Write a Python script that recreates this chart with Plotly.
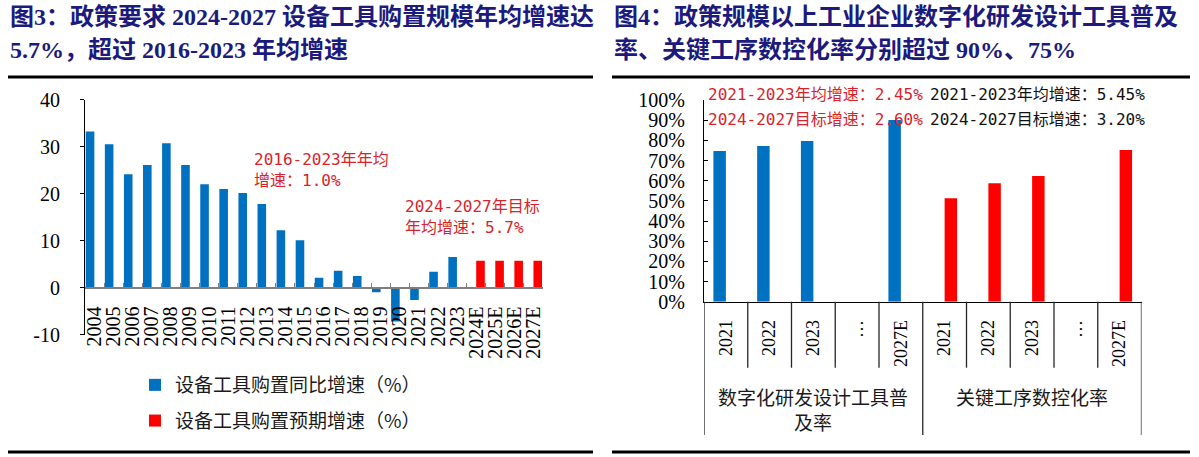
import plotly.graph_objects as go

# ---------------- data ----------------
# Left chart: 设备工具购置同比增速 (%)
hist_years = ["2004", "2005", "2006", "2007", "2008", "2009", "2010", "2011", "2012", "2013",
              "2014", "2015", "2016", "2017", "2018", "2019", "2020", "2021", "2022", "2023"]
hist_growth = [33.2, 30.5, 24.1, 26.1, 30.7, 26.1, 22.0, 21.0, 20.1, 17.8,
               12.2, 10.1, 2.1, 3.6, 2.5, -1.0, -7.2, -2.6, 3.4, 6.5]
target_years = ["2024E", "2025E", "2026E", "2027E"]
target_growth = [5.7, 5.7, 5.7, 5.7]
left_series_names = ["设备工具购置同比增速（%）", "设备工具购置预期增速（%）"]
left_yticks = [-10, 0, 10, 20, 30, 40]
left_ytext = ["-10", "0", "10", "20", "30", "40"]

# Right chart: 普及率 / 数控化率 (%)
group_names = ["数字化研发设计工具普及率", "关键工序数控化率"]
group_labels = ["数字化研发设计工具普<br>及率", "关键工序数控化率"]
period_labels = ["2021", "2022", "2023", "…", "2027E"]
digital_years = ["2021", "2022", "2023", "2027E"]
digital_rate = [74.7, 77.2, 79.7, 90.1]
cnc_years = ["2021", "2022", "2023", "2027E"]
cnc_rate = [51.3, 58.7, 62.3, 75.2]
right_yticks = [0, 10, 20, 30, 40, 50, 60, 70, 80, 90, 100]

title_left = ["图3：政策要求 2024-2027 设备工具购置规模年均增速达",
              "5.7%，超过 2016-2023 年均增速"]
title_right = ["图4：政策规模以上工业企业数字化研发设计工具普及",
               "率、关键工序数控化率分别超过 90%、75%"]
note_left_1 = "2016-2023年年均<br>增速：1.0%"
note_left_2 = "2024-2027年目标<br>年均增速：5.7%"
note_right_red = ["2021-2023年均增速：2.45%", "2024-2027目标增速：2.60%"]
note_right_black = ["2021-2023年均增速：5.45%", "2024-2027目标增速：3.20%"]

# ---------------- styling helpers ----------------
W, H = 1199, 457
def fx(px):
    return px / W
def fy(py):
    return 1 - py / H

BLUE = "#0070C0"
RED = "#FF0000"
NOTE_RED = "#D9232B"
NAVY = "#1C1A7C"
SERIF = "Liberation Serif, Noto Sans CJK SC"
CJK = "Noto Sans CJK SC"
MONO = "DejaVu Sans Mono, Noto Sans CJK SC"

fig = go.Figure()

# ---------------- left chart ----------------
fig.add_trace(go.Bar(
    x=hist_years, y=hist_growth, name=left_series_names[0],
    marker=dict(color=BLUE, line=dict(width=0)),
    offset=-0.46, width=0.45, xaxis="x", yaxis="y",
    legendgroup="a",
))
fig.add_trace(go.Bar(
    x=target_years, y=target_growth, name=left_series_names[1],
    marker=dict(color=RED, line=dict(width=0)),
    offset=0.0, width=0.45, xaxis="x", yaxis="y",
    legendgroup="b",
))

# ---------------- right chart ----------------
cat_keys = [f"{g}|{p}" for g in group_names for p in period_labels]
cat_text = [p for g in group_names for p in period_labels]

fig.add_trace(go.Bar(
    x=[f"{group_names[0]}|{y}" for y in digital_years], y=digital_rate,
    marker=dict(color=BLUE, line=dict(width=0)),
    offset=-0.285, width=0.285, xaxis="x2", yaxis="y2", showlegend=False,
))
fig.add_trace(go.Bar(
    x=[f"{group_names[1]}|{y}" for y in cnc_years], y=cnc_rate,
    marker=dict(color=RED, line=dict(width=0)),
    offset=0.0, width=0.285, xaxis="x2", yaxis="y2", showlegend=False,
))

left_y0, left_y1 = 99.5, 334.7       # pixel rows for 40 and -10
zero_px = 287.7
right_y0, right_y1 = 100.0, 301.7    # pixel rows for 100% and 0%
left_cats = hist_years + target_years

fig.update_layout(
    width=W, height=H,
    margin=dict(l=0, r=0, t=0, b=0, autoexpand=False),
    paper_bgcolor="white", plot_bgcolor="white",
    barmode="overlay",
    showlegend=True,
    legend=dict(
        x=fx(135), y=fy(366), xanchor="left", yanchor="top",
        font=dict(family=CJK, size=19, color="#1a1a1a"),
        bgcolor="rgba(0,0,0,0)", tracegroupgap=8, traceorder="grouped",
        itemwidth=30,
    ),
    xaxis=dict(
        domain=[fx(85), fx(543)], anchor="free", position=fy(zero_px),
        type="category", categoryorder="array", categoryarray=left_cats,
        tickmode="array", tickvals=left_cats, ticktext=left_cats,
        range=[-0.5, 23.5],
        showline=True, linecolor="#7F7F7F", linewidth=1.5,
        ticks="inside", tickson="boundaries", ticklen=4, tickcolor="#7F7F7F",
        tickangle=-90, ticklabelstandoff=10,
        tickfont=dict(family=SERIF, size=20, color="black"),
        showgrid=False, zeroline=False, automargin=False,
    ),
    yaxis=dict(
        domain=[fy(left_y1), fy(left_y0)], anchor="x",
        range=[-10, 40], tickmode="array", tickvals=left_yticks, ticktext=left_ytext,
        showline=True, linecolor="black", linewidth=1,
        ticks="outside", ticklen=4, tickcolor="black",
        ticklabelstandoff=16,
        tickfont=dict(family=SERIF, size=20, color="black"),
        showgrid=False, zeroline=False, automargin=False,
    ),
    xaxis2=dict(
        domain=[fx(704), fx(1141.5)], anchor="y2",
        type="category", categoryorder="array", categoryarray=cat_keys,
        tickmode="array", tickvals=cat_keys, ticktext=cat_text,
        range=[-0.5, 9.5],
        showline=True, linecolor="black", linewidth=1.2,
        ticks="", tickangle=-90, ticklabelstandoff=10,
        tickfont=dict(family=SERIF, size=18, color="black"),
        showgrid=False, zeroline=False, automargin=False,
    ),
    yaxis2=dict(
        domain=[fy(right_y1), fy(right_y0)], anchor="x2",
        range=[0, 100], tickmode="array", tickvals=right_yticks,
        ticktext=[f"{v}%" for v in right_yticks],
        showline=True, linecolor="black", linewidth=1.2,
        ticks="inside", ticklen=4, tickcolor="black",
        ticklabelstandoff=14,
        tickfont=dict(family=SERIF, size=20, color="black"),
        showgrid=False, zeroline=False, automargin=False,
    ),
)

shapes = []
# rules under titles and at bottom
for (x0, x1) in [(8, 593), (612, 1190)]:
    for yy in (77, 452):
        shapes.append(dict(type="line", xref="paper", yref="paper",
                           x0=fx(x0), x1=fx(x1), y0=fy(yy), y1=fy(yy),
                           line=dict(color="black", width=3)))
# category separators on the right axis
for i in range(len(cat_keys) + 1):
    pos = i - 0.5
    long = i in (0, len(period_labels), len(cat_keys))
    shapes.append(dict(type="line", xref="x2", yref="paper",
                       x0=pos, x1=pos, y0=fy(right_y1), y1=fy(435 if long else 367.7),
                       line=dict(color="#262626", width=1.3)))
fig.update_layout(shapes=shapes)

ann = []
for i, line in enumerate(title_left):
    ann.append(dict(x=fx(8), y=fy(17 + 33 * i), xref="paper", yref="paper",
                    xanchor="left", yanchor="middle", showarrow=False, text=f"<b>{line}</b>",
                    font=dict(family=SERIF, size=24, color=NAVY)))
for i, line in enumerate(title_right):
    ann.append(dict(x=fx(612), y=fy(17 + 33 * i), xref="paper", yref="paper",
                    xanchor="left", yanchor="middle", showarrow=False, text=f"<b>{line}</b>",
                    font=dict(family=SERIF, size=24, color=NAVY)))
# left notes
ann.append(dict(x=fx(252), y=fy(148), xref="paper", yref="paper", xanchor="left", yanchor="top",
                align="left", showarrow=False, text=note_left_1,
                font=dict(family=MONO, size=16, color=NOTE_RED)))
ann.append(dict(x=fx(403), y=fy(195), xref="paper", yref="paper", xanchor="left", yanchor="top",
                align="left", showarrow=False, text=note_left_2,
                font=dict(family=MONO, size=16, color=NOTE_RED)))
# right notes
for i in range(2):
    ann.append(dict(x=fx(706), y=fy(95 + 24.3 * i), xref="paper", yref="paper",
                    xanchor="left", yanchor="middle", showarrow=False, text=note_right_red[i],
                    font=dict(family=MONO, size=16, color=NOTE_RED)))
    ann.append(dict(x=fx(928), y=fy(95 + 24.3 * i), xref="paper", yref="paper",
                    xanchor="left", yanchor="middle", showarrow=False, text=note_right_black[i],
                    font=dict(family=MONO, size=16, color="#111111")))
# group labels for right axis
for gi, lbl in enumerate(group_labels):
    center = gi * len(period_labels) + (len(period_labels) - 1) / 2
    ann.append(dict(x=center, y=fy(381), xref="x2", yref="paper", xanchor="center", yanchor="top",
                    align="center", showarrow=False, text=lbl,
                    font=dict(family=CJK, size=19, color="#1a1a1a")))
fig.update_layout(annotations=ann)

fig.write_html("out.html", config={"displayModeBar": False},
               post_script="document.body.style.margin='0';")
